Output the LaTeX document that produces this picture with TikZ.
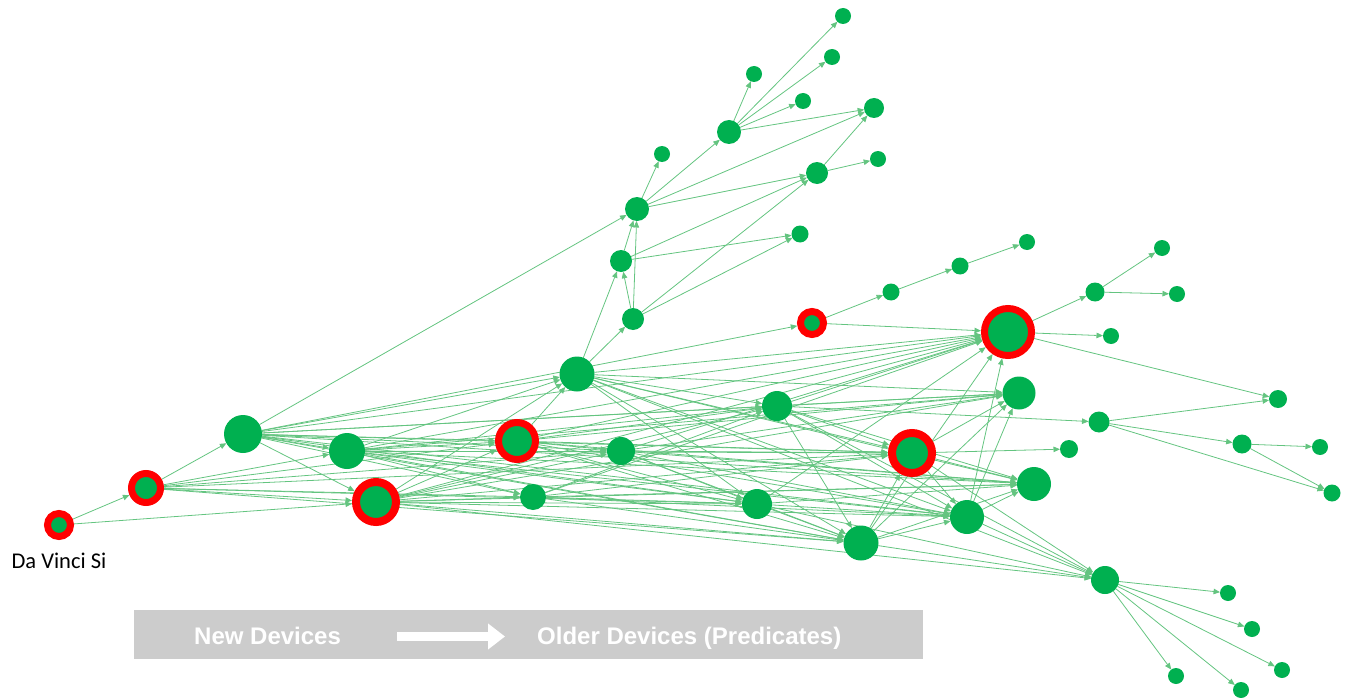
\documentclass[tikz,border=0pt]{standalone}
\usepackage{fontspec}
\setmainfont{Liberation Sans}
\newfontfamily\calfont{Carlito}
\usetikzlibrary{arrows.meta}
\pgfdeclarelayer{bg}
\pgfsetlayers{bg,main}
\definecolor{ngreen}{RGB}{0,176,80}
\definecolor{ecol}{RGB}{100,196,128}
\definecolor{barc}{RGB}{204,204,204}
\begin{document}
\begin{tikzpicture}[x=1pt,y=-1pt,
 gn/.style={circle,fill=ngreen,inner sep=0pt,outer sep=0pt,minimum size=#1},
 rn/.style={circle,fill=ngreen,draw=red,inner sep=0pt,line width=7pt,minimum size=#1},
 ed/.style={draw=ecol,line width=0.8pt,-{Triangle[length=6.5pt,width=5.5pt]}},
 bartext/.style={text=white,font=\bfseries\fontsize{24}{28}\selectfont,inner sep=0pt,anchor=base west}]
\useasboundingbox (0,0) rectangle (1349,698);
% nodes
\node[rn=23] (n1) at (59,525) {};
\node[rn=29] (n2) at (146,488) {};
\node[gn=38] (n3) at (243,434) {};
\node[gn=36] (n4) at (347,451) {};
\node[rn=40,line width=8pt] (n5) at (376,502) {};
\node[gn=35] (n6) at (577,374) {};
\node[rn=37] (n7) at (517,441) {};
\node[gn=28] (n8) at (621,451) {};
\node[gn=26] (n9) at (533,497) {};
\node[gn=22] (n10) at (633,319) {};
\node[rn=23] (n11) at (812,323) {};
\node[gn=30] (n12) at (777,406) {};
\node[gn=30] (n13) at (757,504) {};
\node[gn=35] (n14) at (861,543) {};
\node[rn=40,line width=8pt] (n15) at (912,453) {};
\node[rn=47] (n16) at (1008,332) {};
\node[gn=33] (n17) at (1019,393) {};
\node[gn=34] (n18) at (1034,484) {};
\node[gn=34] (n19) at (967,517) {};
\node[gn=18] (n20) at (1069,449) {};
\node[gn=21] (n21) at (1099,422) {};
\node[gn=18] (n22) at (1278,399) {};
\node[gn=19] (n23) at (1242,444) {};
\node[gn=16] (n24) at (1320,447) {};
\node[gn=17] (n25) at (1332,493) {};
\node[gn=16] (n26) at (1111,336) {};
\node[gn=19] (n27) at (1095,292) {};
\node[gn=16] (n28) at (1177,294) {};
\node[gn=16] (n29) at (1162,248) {};
\node[gn=17] (n30) at (891,292) {};
\node[gn=17] (n31) at (960,266) {};
\node[gn=16] (n32) at (1027,242) {};
\node[gn=28] (n33) at (1105,580) {};
\node[gn=16] (n34) at (1228,593) {};
\node[gn=16] (n35) at (1252,629) {};
\node[gn=16] (n36) at (1282,670) {};
\node[gn=16] (n37) at (1176,676) {};
\node[gn=16] (n38) at (1241,690) {};
\node[gn=22] (n39) at (621,261) {};
\node[gn=24] (n40) at (637,209) {};
\node[gn=16] (n42) at (662,154) {};
\node[gn=24] (n43) at (729,132) {};
\node[gn=16] (n44) at (754,74) {};
\node[gn=16] (n45) at (843,16) {};
\node[gn=16] (n46) at (832,57) {};
\node[gn=16] (n47) at (803,101) {};
\node[gn=20] (n48) at (874,108) {};
\node[gn=22] (n49) at (817,173) {};
\node[gn=16] (n50) at (878,159) {};
\node[gn=17] (n51) at (800,234) {};
% label
\node[font=\calfont\fontsize{22.5}{26}\selectfont,inner sep=0pt,anchor=base] (lbl) at (59,568) {Da Vinci Si};
% bar
\node[fill=barc,inner sep=0pt,minimum width=789pt,minimum height=49pt,anchor=north west] (bar) at (134,610) {};
\node[bartext] (t1) at (194,644) {New Devices};
\node[bartext] (t2) at (537,644) {Older Devices (Predicates)};
\coordinate (a1) at (397,636.5);
\coordinate (a2) at (505,636.5);
\draw[white,line width=9pt,-{Triangle[length=17pt,width=25pt]}] (a1) -- (a2);
% edges
\begin{pgfonlayer}{bg}
\foreach \a/\b in {n1/n2, n1/n5,
 n2/n3, n2/n4, n2/n5, n2/n7, n2/n8, n2/n9, n2/n13, n2/n14, n2/n15,
 n3/n4, n3/n5, n3/n6, n3/n7, n3/n8, n3/n9, n3/n12, n3/n13, n3/n14, n3/n15, n3/n16, n3/n17, n3/n18, n3/n19, n3/n40, n3/n11,
 n4/n6, n4/n7, n4/n8, n4/n9, n4/n12, n4/n13, n4/n14, n4/n15, n4/n16, n4/n17, n4/n18, n4/n19,
 n5/n6, n5/n7, n5/n8, n5/n9, n5/n12, n5/n13, n5/n14, n5/n15, n5/n16, n5/n17, n5/n18, n5/n19, n5/n33,
 n7/n6, n7/n8, n7/n12, n7/n13, n7/n14, n7/n15, n7/n16, n7/n17, n7/n18, n7/n19,
 n6/n10, n6/n39, n6/n12, n6/n13, n6/n14, n6/n15, n6/n16, n6/n17, n6/n18, n6/n19, n6/n33,
 n9/n12, n9/n13, n9/n14, n9/n15, n9/n16, n9/n18, n9/n19,
 n8/n13, n8/n14, n8/n15, n8/n16, n8/n17, n8/n18, n8/n19,
 n12/n14, n12/n15, n12/n16, n12/n17, n12/n18, n12/n19, n12/n21, n12/n33,
 n13/n14, n13/n16, n13/n18, n13/n19, n13/n33,
 n14/n15, n14/n16, n14/n17, n14/n18, n14/n19, n14/n33,
 n15/n17, n15/n18, n15/n19, n15/n20, n15/n33,
 n19/n16, n19/n17, n19/n18, n19/n33,
 n11/n16, n11/n30, n30/n31, n31/n32,
 n16/n27, n16/n26, n16/n22, n27/n29, n27/n28,
 n21/n22, n21/n23, n21/n25, n23/n24, n23/n25,
 n33/n34, n33/n35, n33/n36, n33/n37, n33/n38,
 n10/n39, n10/n40, n10/n49, n10/n51,
 n39/n40, n39/n49, n39/n51,
 n40/n42, n40/n43, n40/n48, n40/n49,
 n43/n44, n43/n45, n43/n46, n43/n47, n43/n48,
 n49/n48, n49/n50}
 \draw[ed] (\a) -- (\b);
\end{pgfonlayer}
\end{tikzpicture}
\end{document}
